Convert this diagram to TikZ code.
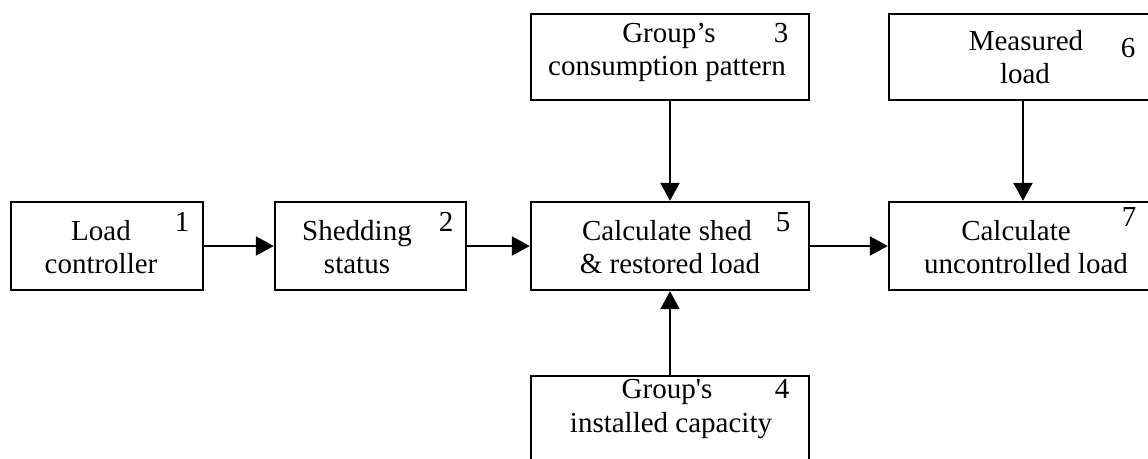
\documentclass[tikz,border=0pt]{standalone}
\usepackage{fontspec}
\setmainfont{Liberation Serif}
\usetikzlibrary{arrows.meta}
\begin{document}
\begin{tikzpicture}[x=1pt,y=-1pt,
  box/.style={draw, line width=2.4pt, rectangle, inner sep=0pt},
  txt/.style={anchor=base, inner sep=0pt, font=\fontsize{29}{33}\selectfont},
  num/.style={txt},
  arr/.style={line width=2.4pt, -{Triangle[length=18pt,width=19pt]}}]
\useasboundingbox (0,0) rectangle (1148,458);
\fill[white] (0,0) rectangle (1148,458);
\clip (0,0) rectangle (1148,458);
% boxes
\node[box, minimum width=192, minimum height=88] (b1) at (107,246) {};
\node[box, minimum width=191, minimum height=88] (b2) at (370.5,246) {};
\node[box, minimum width=278, minimum height=88] (b5) at (670,246) {};
\node[box, minimum width=268, minimum height=88] (b7) at (1023,246) {};
\node[box, minimum width=278, minimum height=86] (b3) at (670,57) {};
\node[box, minimum width=268, minimum height=86] (b6) at (1023,57) {};
\node[box, minimum width=278, minimum height=110] (b4) at (670,431) {};
% texts
\node[txt] (t1a) at (101,240) {Load};
\node[txt] (t1b) at (101,273) {controller};
\node[num] (n1) at (182,231) {1};
\node[txt] (t2a) at (357,240) {Shedding};
\node[txt] (t2b) at (357,273) {status};
\node[num] (n2) at (446,231) {2};
\node[txt] (t5a) at (667,240) {Calculate shed};
\node[txt] (t5b) at (670,273) {\& restored load};
\node[num] (n5) at (783,231) {5};
\node[txt] (t7a) at (1016,240) {Calculate};
\node[txt] (t7b) at (1026,273) {uncontrolled load};
\node[num] (n7) at (1129,226) {7};
\node[txt] (t3a) at (669,42) {Group’s};
\node[txt] (t3b) at (667,75) {consumption pattern};
\node[num] (n3) at (781,42) {3};
\node[txt] (t6a) at (1026,50) {Measured};
\node[txt] (t6b) at (1025,83) {load};
\node[num] (n6) at (1128,57) {6};
\node[txt] (t4a) at (667,398) {Group\textquotesingle s};
\node[txt] (t4b) at (671,432) {installed capacity};
\node[num] (n4) at (782,398) {4};
% connectors
\draw[arr] (b1.east) -- (b2.west);
\draw[arr] (b2.east) -- (b5.west);
\draw[arr] (b5.east) -- (b7.west);
\draw[arr] (b3.south) -- (b5.north);
\draw[arr] (b4.north) -- (b5.south);
\draw[arr] (b6.south) -- (b7.north);
\end{tikzpicture}
\end{document}
